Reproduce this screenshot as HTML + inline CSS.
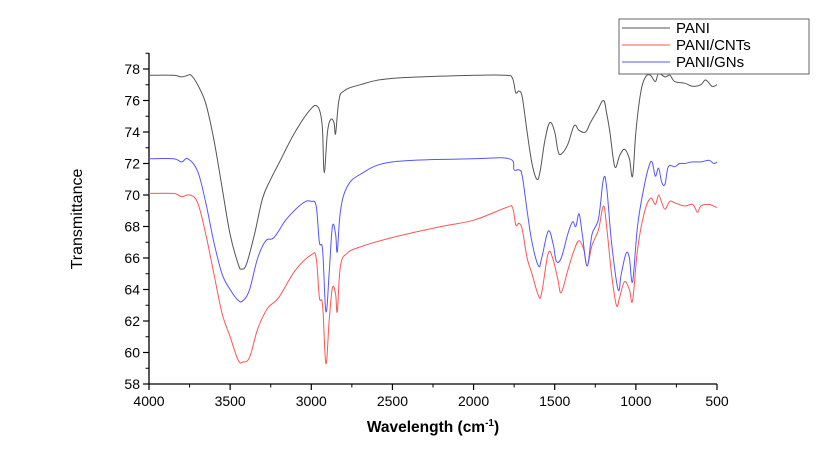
<!DOCTYPE html>
<html><head><meta charset="utf-8"><style>
html,body{margin:0;padding:0;background:#fff;}
svg{display:block;font-family:"Liberation Sans",Arial,sans-serif;}
</style></head><body>
<svg id="chart" width="833" height="461" viewBox="0 0 833 461" xmlns="http://www.w3.org/2000/svg"></svg>
<script>
const xTicks=[4000,3500,3000,2500,2000,1500,1000,500];
const yTicks=[58,60,62,64,66,68,70,72,74,76,78];
const seriesNames=["PANI","PANI/CNTs","PANI/GNs"];
const seriesColors=["#555","#f55","#55f"];
const paniX=[4000,3850,3800,3760,3740,3700,3650,3600,3550,3500,3450,3430,3400,3350,3300,3250,3200,3100,3000,2960,2940,2930,2920,2900,2880,2860,2850,2830,2800,2700,2500,2000,1800,1760,1740,1720,1700,1670,1640,1610,1590,1560,1530,1500,1480,1460,1420,1380,1350,1310,1280,1240,1200,1180,1160,1130,1100,1070,1040,1020,1000,970,940,910,880,860,820,790,760,700,650,600,570,530,500];
const paniY=[77.6,77.6,77.5,77.6,77.6,77,75.8,73.5,70.5,67.5,65.6,65.3,65.6,67.5,69.8,71,72,74,75.5,75.6,75,74,71.4,74,74.8,74.6,73.9,76,76.6,77,77.4,77.6,77.6,77.4,76.5,76.6,76.2,74,72,71,71.5,73.5,74.6,74,72.8,72.6,73.2,74.4,74.1,74,74.6,75.3,76,75.2,74,71.8,72.5,72.9,72.3,71.2,74,76.5,77.5,77.6,77.2,77.7,77.5,77.6,77.2,77.1,76.9,77,77.3,76.9,77];
const cntX=[4000,3850,3800,3750,3700,3650,3600,3550,3500,3450,3420,3380,3330,3270,3200,3100,3000,2970,2950,2930,2910,2890,2870,2850,2840,2820,2780,2700,2500,2200,2000,1800,1760,1740,1720,1700,1670,1640,1600,1580,1540,1510,1480,1460,1420,1380,1350,1320,1300,1270,1230,1200,1180,1150,1120,1100,1070,1040,1020,990,950,910,880,860,840,820,790,760,700,650,620,600,550,500];
const cntY=[70.1,70.1,69.9,70,69.5,67.5,65,62.5,61,59.5,59.4,59.7,61.5,62.8,63.5,65.2,66.2,66,63.5,63,59.3,62,64.1,63.7,62.6,65.5,66.3,66.7,67.3,68,68.4,69.2,69.2,68.1,68.2,67.8,66,65,63.6,63.8,66.3,65.9,64.6,63.8,65.2,66.5,67.1,66.5,65.5,66.8,67.8,69.3,68,65,63,63.5,64.5,64,63.3,66.5,68.8,69.8,69.4,70,69.5,69.1,69.6,69.5,69.3,69.4,68.9,69.3,69.4,69.2];
const gnX=[4000,3850,3800,3760,3700,3650,3600,3550,3500,3450,3420,3380,3330,3280,3230,3150,3050,3000,2970,2950,2930,2910,2890,2870,2850,2840,2820,2780,2700,2500,2000,1780,1750,1720,1700,1670,1640,1600,1580,1540,1510,1490,1460,1420,1390,1370,1350,1330,1300,1270,1230,1200,1180,1150,1110,1090,1060,1040,1020,990,950,920,900,880,860,840,820,800,760,730,700,650,600,550,520,500];
const gnY=[72.3,72.3,72.1,72.3,71.5,69.5,67,65,64,63.3,63.3,64,66,67.1,67.3,68.5,69.5,69.6,69.3,67,66.5,62.6,65,68,67.5,66.4,69,70.5,71.3,72.1,72.3,72.3,71.6,71.6,71.2,69,67,65.5,66,67.7,66.9,65.8,66,67.5,68.3,68,68.8,67.5,65.5,67.5,68.5,71,70.5,67,64,65,66.3,66,64.5,68,70.5,71.8,72.1,71.2,71.7,70.8,70.7,71.8,71.8,72,72,72.1,72.1,72.2,72,72.1];

const NS="http://www.w3.org/2000/svg";
const svg=document.getElementById('chart');
const X0=149,X1=717,Y0=384,Y1=69;
function sx(w){return X0+(4000-w)*(X1-X0)/3500;}
function sy(v){return Y0-(v-58)*(Y0-Y1)/20;}
function mk(tag,attrs,parent){const e=document.createElementNS(NS,tag);for(const k in attrs)e.setAttribute(k,attrs[k]);(parent||svg).appendChild(e);return e;}

const axes=mk('g',{});


const yAxis=mk('line',{x1:X0,y1:53,x2:X0,y2:Y0,stroke:'#000','stroke-width':1.3},axes);


const xAxis=mk('line',{x1:X0,y1:Y0,x2:X1,y2:Y0,stroke:'#000','stroke-width':1.3},axes);



for(let i=0;i<xTicks.length;i++){
  const x=sx(xTicks[i]);
  mk('line',{x1:x,y1:Y0,x2:x,y2:Y0+6,stroke:'#000','stroke-width':1.2},axes);
  if(i<xTicks.length-1){const xm=sx(xTicks[i]-250);mk('line',{x1:xm,y1:Y0,x2:xm,y2:Y0+3.5,stroke:'#000'},axes);}
  const t=mk('text',{x:x,y:Y0+22,'text-anchor':'middle','font-size':14,fill:'#000'},axes);
  t.textContent=xTicks[i];
  
  
}
for(let i=0;i<yTicks.length;i++){
  const y=sy(yTicks[i]);
  mk('line',{x1:X0-6,y1:y,x2:X0,y2:y,stroke:'#000','stroke-width':1.2},axes);
  const ym=sy(yTicks[i]+1);
  mk('line',{x1:X0-3.5,y1:ym,x2:X0,y2:ym,stroke:'#000'},axes);
  const t=mk('text',{x:X0-9,y:y+5,'text-anchor':'end','font-size':14,fill:'#000'},axes);
  t.textContent=yTicks[i];
  
  
}
const yt=mk('text',{x:0,y:0,transform:'translate(82,219) rotate(-90)','text-anchor':'middle','font-size':16,fill:'#000'});
yt.textContent='Transmittance';


const xt=mk('text',{x:433,y:432,'text-anchor':'middle','font-size':15.5,'font-weight':'bold',fill:'#000'});
xt.innerHTML='Wavelength (cm<tspan dy="-6" font-size="10">-1</tspan><tspan dy="6">)</tspan>';



function smoothPath(pts){
  let d='M'+pts[0][0].toFixed(1)+','+pts[0][1].toFixed(1);
  for(let i=0;i<pts.length-1;i++){
    const p0=pts[Math.max(0,i-1)],p1=pts[i],p2=pts[i+1],p3=pts[Math.min(pts.length-1,i+2)];
    const t=0.18;
    const c1=[p1[0]+(p2[0]-p0[0])*t,p1[1]+(p2[1]-p0[1])*t];
    const c2=[p2[0]-(p3[0]-p1[0])*t,p2[1]-(p3[1]-p1[1])*t];
    d+='C'+c1[0].toFixed(1)+','+c1[1].toFixed(1)+' '+c2[0].toFixed(1)+','+c2[1].toFixed(1)+' '+p2[0].toFixed(1)+','+p2[1].toFixed(1);
  }
  return d;
}
const allX=[paniX,cntX,gnX],allY=[paniY,cntY,gnY];
const lineNames=['pani-line','pani-cnts-line','pani-gns-line'];
for(let s=0;s<3;s++){
  const pts=allX[s].map((w,i)=>[sx(w),sy(allY[s][i])]);
  const p=mk('path',{d:smoothPath(pts),fill:'none',stroke:seriesColors[s],'stroke-width':1,'stroke-linejoin':'round'});
  
  
}

const lg=mk('g',{});


mk('rect',{x:619,y:19,width:190,height:55,fill:'#fff',stroke:'#666','stroke-width':1},lg);
for(let s=0;s<3;s++){
  const y=28+s*17;
  const en=mk('g',{},lg);
  
  
  mk('line',{x1:622,y1:y,x2:670,y2:y,stroke:seriesColors[s],'stroke-width':1},en);
  const t=mk('text',{x:676,y:y+5,'font-size':15,fill:'#000'},en);
  t.textContent=seriesNames[s];
}
</script>
</body></html>
